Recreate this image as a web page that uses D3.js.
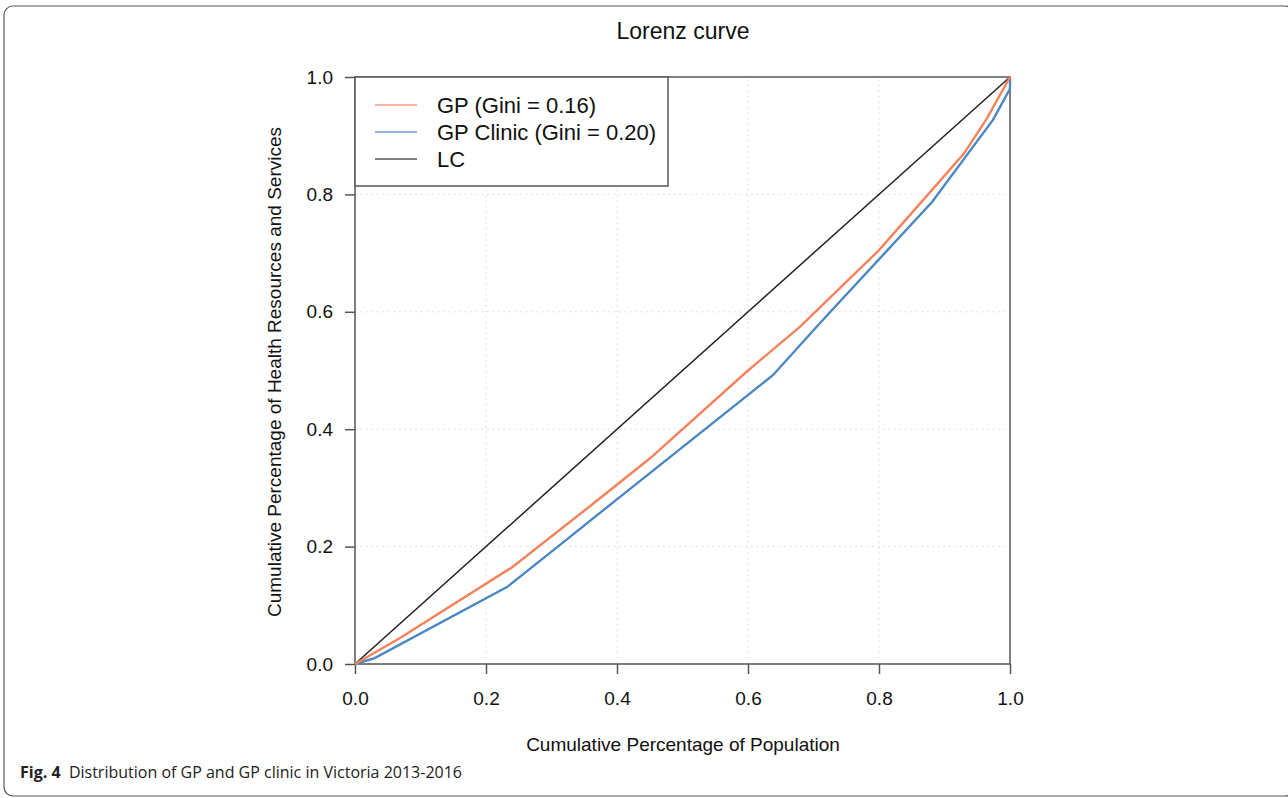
<!DOCTYPE html>
<html>
<head>
<meta charset="utf-8">
<script src="https://cdn.jsdelivr.net/npm/d3@7"></script>
<style>
  body { margin: 0; background: #fff; }
  svg { display: block; }
</style>
</head>
<body>
<svg id="fig" width="1288" height="798"></svg>
<script>
// data
var gpX = [0, 0.07, 0.24, 0.36, 0.45, 0.60, 0.68, 0.80, 0.875, 0.93, 0.965, 1.0];
var gpY = [0, 0.045, 0.165, 0.27, 0.35, 0.50, 0.575, 0.705, 0.80, 0.87, 0.93, 1.0];
var clinicX = [0, 0.03, 0.232, 0.313, 0.397, 0.638, 0.71, 0.881, 0.974, 1.0, 1.0];
var clinicY = [0, 0.01, 0.131, 0.203, 0.278, 0.492, 0.581, 0.787, 0.927, 0.98, 1.0];
var lcX = [0, 1];
var lcY = [0, 1];
var ticks = [0, 0.2, 0.4, 0.6, 0.8, 1.0];
var legendLabels = ["GP (Gini = 0.16)", "GP Clinic (Gini = 0.20)", "LC"];
var colors = ["#f5825a", "#4a88c4", "#222222"];

var svg = d3.select("#fig");
var font = "'Liberation Sans', Arial, sans-serif";

// outer frame
svg.append("rect")
    .attr("x", 4).attr("y", 6)
    .attr("width", 1290).attr("height", 790)
    .attr("rx", 9)
    .attr("fill", "none")
    .attr("stroke", "#555")
    .attr("stroke-width", 1.2);

var x = d3.scaleLinear().domain([0, 1]).range([355, 1010]);
var y = d3.scaleLinear().domain([0, 1]).range([664, 77]);

// dotted grid
var grid = svg.append("g");
grid.selectAll(".gx").data(ticks.slice(1, 5)).enter().append("line")
    .attr("x1", function (d) { return x(d); })
    .attr("x2", function (d) { return x(d); })
    .attr("y1", y(0)).attr("y2", y(1))
    .attr("stroke", "#d8d8d8").attr("stroke-dasharray", "1.5,4");
grid.selectAll(".gy").data(ticks.slice(1, 5)).enter().append("line")
    .attr("y1", function (d) { return y(d); })
    .attr("y2", function (d) { return y(d); })
    .attr("x1", x(0)).attr("x2", x(1))
    .attr("stroke", "#d8d8d8").attr("stroke-dasharray", "1.5,4");

// axes
var xAxis = d3.axisBottom(x).tickValues(ticks).tickFormat(d3.format(".1f")).tickSize(10).tickPadding(18);
var yAxis = d3.axisLeft(y).tickValues(ticks).tickFormat(d3.format(".1f")).tickSize(10).tickPadding(12);

var gx = svg.append("g").attr("transform", "translate(0," + y(0) + ")").call(xAxis);
var gy = svg.append("g").attr("transform", "translate(" + x(0) + ",0)").call(yAxis);
[gx, gy].forEach(function (g) {
    g.select(".domain").remove();
    g.selectAll("line").attr("stroke", "#555").attr("stroke-width", 1.5);
    g.selectAll("text").style("font-family", font).style("font-size", "19px").attr("fill", "#111");
});

// plot box
svg.append("rect")
    .attr("x", x(0)).attr("y", y(1))
    .attr("width", x(1) - x(0)).attr("height", y(0) - y(1))
    .attr("fill", "none").attr("stroke", "#555").attr("stroke-width", 1.5);

// curves
var series = [
    { xs: gpX, ys: gpY, color: colors[0], w: 2.4 },
    { xs: clinicX, ys: clinicY, color: colors[1], w: 2.4 },
    { xs: lcX, ys: lcY, color: colors[2], w: 1.5 }
];
var line = d3.line()
    .x(function (d) { return x(d[0]); })
    .y(function (d) { return y(d[1]); });

svg.selectAll(".curve").data(series.slice().reverse()).enter().append("path")
    .attr("class", "curve")
    .attr("d", function (s) { return line(d3.zip(s.xs, s.ys)); })
    .attr("fill", "none")
    .attr("stroke", function (s) { return s.color; })
    .attr("stroke-width", function (s) { return s.w; });

// legend
svg.append("rect")
    .attr("x", x(0)).attr("y", y(1))
    .attr("width", 313).attr("height", 109)
    .attr("fill", "#fff").attr("stroke", "#555").attr("stroke-width", 1.5);

var leg = svg.selectAll(".leg").data(legendLabels).enter().append("g")
    .attr("class", "leg")
    .attr("transform", function (d, i) { return "translate(375," + (105 + i * 27) + ")"; });
leg.append("line")
    .attr("x1", 0).attr("x2", 42)
    .attr("stroke", function (d, i) { return i == 2 ? "#555" : colors[i]; })
    .attr("stroke-opacity", function (d, i) { return i == 2 ? 1 : 0.8; })
    .attr("stroke-width", 1.5);
leg.append("text")
    .text(function (d) { return d; })
    .attr("x", 62).attr("dy", "0.35em")
    .style("font-family", font).style("font-size", "22px").attr("fill", "#111");

// titles
svg.append("text").text("Lorenz curve")
    .attr("x", 683).attr("y", 39).attr("text-anchor", "middle")
    .style("font-family", font).style("font-size", "23px").attr("fill", "#111");
svg.append("text").text("Cumulative Percentage of Population")
    .attr("x", 683).attr("y", 751).attr("text-anchor", "middle")
    .style("font-family", font).style("font-size", "19px").attr("fill", "#111");
svg.append("text").text("Cumulative Percentage of Health Resources and Services")
    .attr("transform", "translate(281,372) rotate(-90)").attr("text-anchor", "middle")
    .style("font-family", font).style("font-size", "19px").attr("fill", "#111");

// caption
var cap = svg.append("text")
    .attr("x", 20).attr("y", 778)
    .style("font-family", "'Open Sans', 'Noto Sans', sans-serif").style("font-size", "16px").attr("fill", "#222");
cap.append("tspan").text("Fig. 4").style("font-weight", "bold");
cap.append("tspan").text("  Distribution of GP and GP clinic in Victoria 2013-2016").attr("xml:space", "preserve");
</script>
</body>
</html>
